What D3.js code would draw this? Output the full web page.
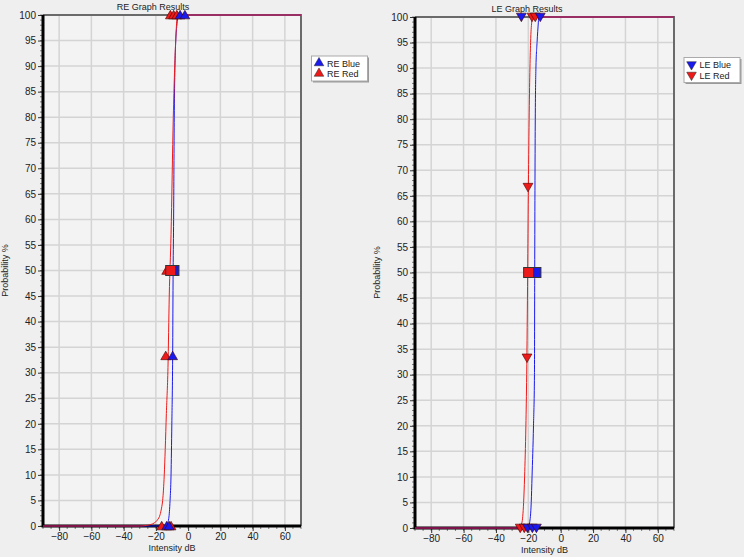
<!DOCTYPE html>
<html>
<head>
<meta charset="utf-8">
<script src="https://cdn.jsdelivr.net/npm/d3@7"></script>
<style>
  body { margin: 0; background: #efefef; }
  svg { display: block; font-family: "Liberation Sans", Arial, sans-serif; }
  .tick text { font-size: 10px; fill: #222; }
  .label { font-size: 9px; fill: #222; }
</style>
</head>
<body>
<div id="chart"></div>
<script>
// tick labels
var xTicks = [-80, -60, -40, -20, 0, 20, 40, 60];
var yTicks = [0, 5, 10, 15, 20, 25, 30, 35, 40, 45, 50, 55, 60, 65, 70, 75, 80, 85, 90, 95, 100];

// RE curves [dB, %]
var reBlueCurve = [[-90,0],[-20,0],[-14,0.1],[-13,0.4],[-12,1.5],[-11.2,5],[-10.6,10],[-10.1,20],[-9.6,33],[-9.3,50],[-9,60],[-8.6,80],[-8,92],[-7,98],[-6,99.8],[-5,100],[70,100]];
var reRedCurve = [[-90,0],[-30,0],[-26,0.1],[-23,0.3],[-21,0.6],[-19,1.2],[-17.4,2.2],[-16.5,3.5],[-15.8,5],[-14.8,10],[-14.2,15],[-13.5,22],[-12.5,31],[-11.7,45],[-10.6,57],[-9.2,80],[-7.7,95],[-7,99],[-6.5,100],[70,100]];

// RE points [dB, %]
var reBluePoints = [[-13.3,0],[-11.7,0],[-9.6,33.3],[-5,100],[-2,100]];
var reRedPoints = [[-16.4,0],[-10.6,0],[-13.9,33.3],[-13.3,50],[-11,100],[-9,100],[-7,100]];
var reBlueThreshold = [[-8.8,50]];
var reRedThreshold = [[-10.8,50]];

// LE curves [dB, %]
var leBlueCurve = [[-90,0],[-22,0],[-19.8,0.3],[-19.2,1],[-18.2,5],[-17.7,10],[-16.8,20],[-16.2,30],[-16.05,50],[-15.7,80],[-15.3,90],[-14.6,95],[-13.8,99],[-13.6,100],[70,100]];
var leRedCurve = [[-90,0],[-27,0],[-25.3,0.3],[-24,1],[-22.9,5],[-22.3,10],[-21.5,20],[-21,30],[-20.4,50],[-20,65],[-19.5,80],[-18.6,95],[-17.9,99],[-17.6,100],[70,100]];

// LE points [dB, %]
var leBluePoints = [[-20.5,0],[-17.5,0],[-15,0],[-24.3,100],[-12.6,100]];
var leRedPoints = [[-25,0],[-22.5,0],[-20.8,33.3],[-20.2,66.7],[-17.7,100],[-15.7,100]];
var leBlueThreshold = [[-15.3,50]];
var leRedThreshold = [[-19.8,50]];

var blue = "#1a1aee";
var red = "#ee1a1a";

var svg = d3.select('#chart').append('svg')
  .attr('width', 744)
  .attr('height', 557);

function drawPanel(opt) {
  var xScale = d3.scaleLinear().domain([-90, 70]).range([opt.x0, opt.x1]);
  var yScale = d3.scaleLinear().domain([0, 100]).range([opt.y1, opt.y0]);

  var g = svg.append('g');

  // plot background
  g.append('rect')
    .attr('x', opt.x0).attr('y', opt.y0)
    .attr('width', opt.x1 - opt.x0).attr('height', opt.y1 - opt.y0)
    .attr('fill', '#f3f3f3');

  // grid
  g.selectAll('.vgrid').data(xTicks).enter().append('line')
    .attr('x1', d => xScale(d)).attr('x2', d => xScale(d))
    .attr('y1', opt.y0).attr('y2', opt.y1)
    .attr('stroke', '#d4d4d4').attr('stroke-width', 1.5);
  g.selectAll('.hgrid').data(yTicks).enter().append('line')
    .attr('x1', opt.x0).attr('x2', opt.x1)
    .attr('y1', d => yScale(d)).attr('y2', d => yScale(d))
    .attr('stroke', '#d4d4d4').attr('stroke-width', 1.5);

  // top / right border
  g.append('path')
    .attr('d', `M${opt.x0},${opt.y0}H${opt.x1}V${opt.y1}`)
    .attr('fill', 'none').attr('stroke', '#6a6a6a').attr('stroke-width', 2);

  // minor ticks
  var yMinor = d3.range(0, 101, 1);
  g.selectAll('.ym').data(yMinor).enter().append('line')
    .attr('x1', opt.x0 - 3).attr('x2', opt.x0)
    .attr('y1', d => yScale(d)).attr('y2', d => yScale(d))
    .attr('stroke', '#333').attr('stroke-width', 0.6);
  var xMinor = d3.range(-90, 71, 5);
  g.selectAll('.xm').data(xMinor).enter().append('line')
    .attr('y1', opt.y1).attr('y2', opt.y1 + 3)
    .attr('x1', d => xScale(d)).attr('x2', d => xScale(d))
    .attr('stroke', '#333').attr('stroke-width', 0.6);

  var yAxis = d3.axisLeft(yScale).tickValues(yTicks).tickSize(5).tickPadding(2);
  var xAxis = d3.axisBottom(xScale).tickValues(xTicks).tickSize(5).tickPadding(2);

  var ya = g.append('g').attr('transform', `translate(${opt.x0},0)`).call(yAxis);
  ya.select('.domain').remove();
  ya.selectAll('.tick line').attr('stroke', '#333');
  var xa = g.append('g').attr('transform', `translate(0,${opt.y1})`).call(xAxis);
  xa.select('.domain').remove();
  xa.selectAll('.tick line').attr('stroke', '#333');

  // thick axis lines
  g.append('path')
    .attr('d', `M${opt.x0},${opt.y0}V${opt.y1}H${opt.x1}`)
    .attr('fill', 'none').attr('stroke', '#000').attr('stroke-width', 3);

  // titles
  g.append('text').attr('class', 'label').attr('x', opt.titleX).attr('y', opt.y0 - 5)
    .attr('text-anchor', 'middle').text(opt.title);
  g.append('text').attr('class', 'label').attr('x', (opt.x0 + opt.x1) / 2).attr('y', opt.y1 + 25)
    .attr('text-anchor', 'middle').text('Intensity dB');
  g.append('text').attr('class', 'label')
    .attr('transform', `translate(${opt.x0 - 35},${(opt.y0 + opt.y1) / 2}) rotate(-90)`)
    .attr('text-anchor', 'middle').text('Probability %');

  var line = d3.line()
    .x(d => xScale(d[0]))
    .y(d => yScale(d[1]))
    .curve(d3.curveMonotoneX);

  g.append('path').datum(opt.blueCurve)
    .attr('d', line).attr('fill', 'none').attr('stroke', blue).attr('stroke-width', 1);
  g.append('path').datum(opt.redCurve)
    .attr('d', line).attr('fill', 'none').attr('stroke', red).attr('stroke-width', 1);

  var tri = d3.symbol().type(d3.symbolTriangle).size(42);
  var rot = opt.down ? 180 : 0;

  function drawPts(data, color) {
    g.selectAll(null).data(data).enter().append('path')
      .attr('d', tri)
      .attr('transform', d => `translate(${xScale(d[0])},${yScale(d[1]) + (opt.down ? -1 : 1)}) rotate(${rot})`)
      .attr('fill', color).attr('stroke', '#400').attr('stroke-width', 0.6);
  }
  drawPts(opt.redPoints, red);
  drawPts(opt.bluePoints, blue);

  function drawSq(data, color) {
    g.selectAll(null).data(data).enter().append('rect')
      .attr('x', d => xScale(d[0]) - 5).attr('y', d => yScale(d[1]) - 5)
      .attr('width', 10).attr('height', 10)
      .attr('fill', color).attr('stroke', '#333').attr('stroke-width', 1);
  }
  drawSq(opt.blueThreshold, blue);
  drawSq(opt.redThreshold, red);

  // legend
  var lg = g.append('g').attr('transform', `translate(${opt.legX},${opt.legY})`);
  lg.append('rect').attr('x', 1.5).attr('y', 1.5).attr('width', 56).attr('height', 25)
    .attr('fill', '#999');
  lg.append('rect').attr('x', 0).attr('y', 0).attr('width', 56).attr('height', 25)
    .attr('fill', '#fff').attr('stroke', '#aaa').attr('stroke-width', 1);
  opt.legend.forEach(function(item, i) {
    lg.append('path')
      .attr('d', d3.symbol().type(d3.symbolTriangle).size(40))
      .attr('transform', `translate(7.5,${7 + i * 10.5}) rotate(${rot})`)
      .attr('fill', item.color).attr('stroke', '#222').attr('stroke-width', 0.5);
    lg.append('text').attr('class', 'label').attr('x', 15.5).attr('y', 10.5 + i * 10.5)
      .text(item.name);
  });
}

drawPanel({
  x0: 43, x1: 301, y0: 15, y1: 526, titleX: 153,
  title: 'RE Graph Results', down: false,
  blueCurve: reBlueCurve, redCurve: reRedCurve,
  bluePoints: reBluePoints, redPoints: reRedPoints,
  blueThreshold: reBlueThreshold, redThreshold: reRedThreshold,
  legX: 311.5, legY: 56,
  legend: [{name: 'RE Blue', color: blue}, {name: 'RE Red', color: red}]
});

drawPanel({
  x0: 415, x1: 674, y0: 17, y1: 528, titleX: 527,
  title: 'LE Graph Results', down: true,
  blueCurve: leBlueCurve, redCurve: leRedCurve,
  bluePoints: leBluePoints, redPoints: leRedPoints,
  blueThreshold: leBlueThreshold, redThreshold: leRedThreshold,
  legX: 684, legY: 57.5,
  legend: [{name: 'LE Blue', color: blue}, {name: 'LE Red', color: red}]
});
</script>
</body>
</html>
